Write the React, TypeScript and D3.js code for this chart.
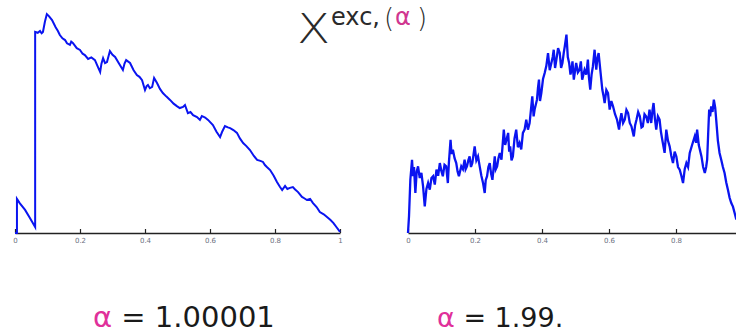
import { useRef, useEffect } from "react";
import * as d3 from "d3";

// left path, alpha = 1.00001 : [t, value]
const leftPath: [number, number][] = [
  [0, 0], [0.006, 0], [0.006, 0.155], [0.015, 0.135], [0.031, 0.105], [0.045, 0.07], [0.062, 0.027],
  [0.062, 0.914], [0.07, 0.91], [0.077, 0.918], [0.082, 0.908], [0.086, 0.914], [0.092, 0.96],
  [0.098, 0.995], [0.105, 0.985], [0.114, 0.968], [0.125, 0.935], [0.132, 0.918], [0.138, 0.9],
  [0.146, 0.885], [0.154, 0.877], [0.16, 0.862], [0.169, 0.855], [0.173, 0.87], [0.178, 0.864],
  [0.19, 0.84], [0.2, 0.832], [0.208, 0.815], [0.215, 0.809], [0.225, 0.791], [0.235, 0.798],
  [0.246, 0.786], [0.255, 0.755], [0.262, 0.732], [0.266, 0.77], [0.271, 0.795], [0.277, 0.772],
  [0.283, 0.777], [0.292, 0.827], [0.3, 0.81], [0.308, 0.8], [0.32, 0.77], [0.332, 0.741],
  [0.337, 0.77], [0.342, 0.786], [0.354, 0.773], [0.365, 0.74], [0.375, 0.718], [0.383, 0.71],
  [0.391, 0.695], [0.4, 0.65], [0.405, 0.668], [0.409, 0.673], [0.415, 0.658], [0.422, 0.664],
  [0.428, 0.705], [0.437, 0.682], [0.446, 0.655], [0.455, 0.636], [0.466, 0.62], [0.477, 0.605],
  [0.488, 0.588], [0.498, 0.577], [0.507, 0.568], [0.517, 0.573], [0.523, 0.582], [0.532, 0.545],
  [0.54, 0.55], [0.548, 0.536], [0.56, 0.527], [0.569, 0.514], [0.575, 0.532], [0.585, 0.525],
  [0.594, 0.514], [0.609, 0.491], [0.62, 0.46], [0.631, 0.436], [0.637, 0.459], [0.646, 0.486],
  [0.655, 0.48], [0.662, 0.477], [0.672, 0.468], [0.683, 0.455], [0.692, 0.43], [0.702, 0.409],
  [0.712, 0.395], [0.723, 0.377], [0.735, 0.35], [0.745, 0.332], [0.755, 0.328], [0.763, 0.323],
  [0.769, 0.309], [0.775, 0.3], [0.785, 0.286], [0.796, 0.26], [0.806, 0.232], [0.815, 0.21],
  [0.822, 0.195], [0.831, 0.214], [0.838, 0.2], [0.846, 0.205], [0.855, 0.209], [0.862, 0.198],
  [0.871, 0.186], [0.883, 0.164], [0.89, 0.158], [0.898, 0.15], [0.908, 0.155], [0.917, 0.136],
  [0.928, 0.118], [0.938, 0.095], [0.95, 0.085], [0.96, 0.073], [0.97, 0.06], [0.98, 0.045],
  [0.99, 0.025], [1, 0.005],
];

// right path, alpha = 1.99 : [t, value]
const rightPath: [number, number][] = [
  [0, 0], [0.003, 0.076], [0.007, 0.242], [0.012, 0.333], [0.015, 0.258], [0.018, 0.3], [0.022, 0.182],
  [0.026, 0.28], [0.03, 0.303], [0.035, 0.25], [0.04, 0.273], [0.045, 0.212], [0.05, 0.121],
  [0.055, 0.2], [0.06, 0.227], [0.065, 0.197], [0.07, 0.25], [0.075, 0.258], [0.08, 0.22],
  [0.085, 0.288], [0.09, 0.26], [0.095, 0.318], [0.1, 0.28], [0.104, 0.258], [0.109, 0.31],
  [0.114, 0.303], [0.119, 0.227], [0.122, 0.318], [0.127, 0.424], [0.13, 0.36], [0.134, 0.379],
  [0.139, 0.34], [0.144, 0.318], [0.148, 0.28], [0.152, 0.258], [0.159, 0.303], [0.164, 0.29],
  [0.169, 0.333], [0.172, 0.29], [0.176, 0.303], [0.18, 0.33], [0.184, 0.348], [0.188, 0.3],
  [0.192, 0.318], [0.199, 0.394], [0.204, 0.33], [0.209, 0.348], [0.214, 0.303], [0.219, 0.26],
  [0.224, 0.227], [0.229, 0.182], [0.232, 0.24], [0.236, 0.258], [0.24, 0.3], [0.244, 0.318],
  [0.248, 0.27], [0.252, 0.242], [0.259, 0.348], [0.262, 0.29], [0.266, 0.303], [0.27, 0.34],
  [0.274, 0.364], [0.279, 0.333], [0.286, 0.47], [0.29, 0.4], [0.294, 0.424], [0.299, 0.455],
  [0.302, 0.37], [0.305, 0.394], [0.309, 0.33], [0.313, 0.348], [0.318, 0.43], [0.323, 0.47],
  [0.328, 0.39], [0.333, 0.409], [0.338, 0.38], [0.343, 0.455], [0.348, 0.47], [0.353, 0.515],
  [0.358, 0.47], [0.363, 0.5], [0.367, 0.56], [0.371, 0.621], [0.375, 0.53], [0.378, 0.561],
  [0.385, 0.606], [0.388, 0.66], [0.391, 0.697], [0.394, 0.6], [0.398, 0.636], [0.403, 0.7],
  [0.408, 0.727], [0.413, 0.76], [0.418, 0.818], [0.423, 0.74], [0.428, 0.773], [0.432, 0.8],
  [0.435, 0.833], [0.439, 0.75], [0.443, 0.788], [0.448, 0.84], [0.453, 0.818], [0.457, 0.75],
  [0.461, 0.773], [0.465, 0.82], [0.468, 0.848], [0.473, 0.902], [0.477, 0.8], [0.481, 0.773],
  [0.485, 0.72], [0.488, 0.742], [0.491, 0.78], [0.495, 0.697], [0.502, 0.773], [0.507, 0.73],
  [0.512, 0.742], [0.516, 0.78], [0.52, 0.697], [0.527, 0.742], [0.532, 0.72], [0.537, 0.788],
  [0.54, 0.71], [0.544, 0.652], [0.548, 0.72], [0.552, 0.758], [0.557, 0.833], [0.562, 0.742],
  [0.565, 0.79], [0.569, 0.818], [0.575, 0.727], [0.58, 0.652], [0.584, 0.62], [0.587, 0.591],
  [0.592, 0.65], [0.597, 0.636], [0.602, 0.561], [0.607, 0.6], [0.612, 0.576], [0.618, 0.54],
  [0.624, 0.515], [0.63, 0.47], [0.634, 0.52], [0.637, 0.545], [0.642, 0.5], [0.647, 0.515],
  [0.652, 0.56], [0.657, 0.545], [0.662, 0.5], [0.667, 0.485], [0.674, 0.439], [0.678, 0.49],
  [0.682, 0.515], [0.687, 0.55], [0.692, 0.53], [0.697, 0.48], [0.701, 0.485], [0.706, 0.54],
  [0.711, 0.53], [0.716, 0.5], [0.721, 0.561], [0.726, 0.5], [0.73, 0.56], [0.733, 0.591],
  [0.737, 0.52], [0.741, 0.47], [0.746, 0.53], [0.751, 0.515], [0.755, 0.46], [0.759, 0.424],
  [0.766, 0.364], [0.771, 0.47], [0.776, 0.42], [0.781, 0.394], [0.786, 0.35], [0.791, 0.318],
  [0.796, 0.37], [0.801, 0.348], [0.806, 0.3], [0.811, 0.288], [0.816, 0.26], [0.821, 0.227],
  [0.826, 0.29], [0.831, 0.318], [0.836, 0.3], [0.841, 0.364], [0.848, 0.4], [0.856, 0.439],
  [0.86, 0.41], [0.863, 0.47], [0.868, 0.4], [0.876, 0.348], [0.881, 0.3], [0.886, 0.273],
  [0.89, 0.3], [0.893, 0.333], [0.896, 0.45], [0.899, 0.561], [0.902, 0.53], [0.905, 0.576],
  [0.909, 0.55], [0.913, 0.606], [0.917, 0.57], [0.92, 0.515], [0.925, 0.42], [0.93, 0.364],
  [0.935, 0.333], [0.94, 0.3], [0.945, 0.273], [0.95, 0.23], [0.955, 0.197], [0.96, 0.16],
  [0.965, 0.136], [0.97, 0.12], [0.975, 0.091], [0.98, 0.061],
];

const leftTicks = [0, 0.2, 0.4, 0.6, 0.8, 1];
const rightTicks = [0, 0.2, 0.4, 0.6, 0.8];

export default function App() {
  const svgRef = useRef<SVGSVGElement>(null);

  useEffect(() => {
    document.body.style.margin = "0";
    const svg = d3.select(svgRef.current);
    svg.selectAll("*").remove();

    const baseY = 233;
    const y = d3.scaleLinear().domain([0, 1]).range([baseY, 13]);

    const panels = [
      { data: leftPath, ticks: leftTicks, range: [15, 340], lw: 2 },
      { data: rightPath, ticks: rightTicks, range: [408, 743], lw: 2.3 },
    ];

    panels.forEach(p => {
      const x = d3.scaleLinear().domain([0, 1]).range(p.range);

      const axis = svg.append("g")
        .attr("transform", `translate(0,${baseY})`)
        .call(
          d3.axisBottom(x)
            .tickValues(p.ticks)
            .tickSizeInner(-4)
            .tickSizeOuter(0)
            .tickPadding(5)
            .tickFormat(d3.format("~g"))
        );
      axis.select(".domain").attr("stroke", "#222").attr("stroke-width", 1.4);
      axis.selectAll(".tick line").attr("stroke", "#222").attr("stroke-width", 1.2);
      axis.selectAll(".tick text")
        .attr("fill", "#6b7080")
        .style("font-family", "DejaVu Sans")
        .style("font-size", "7px");

      const line = d3.line<[number, number]>()
        .x(d => x(d[0]))
        .y(d => y(d[1]));

      svg.append("path")
        .datum(p.data)
        .attr("fill", "none")
        .attr("stroke", "#0a14f0")
        .attr("stroke-width", p.lw)
        .attr("d", line);
    });

    // Title
    svg.append("text")
      .attr("transform", "translate(297,43) scale(1.18,1)")
      .style("font-family", "DejaVu Sans")
      .style("font-size", "41px")
      .style("font-weight", "300")
      .attr("fill", "#2a2a2a")
      .text("X");
    const title = svg.append("text")
      .style("font-family", "DejaVu Sans")
      .attr("fill", "#2a2a2a");
    title.append("tspan").attr("x", 331).attr("y", 25).style("font-size", "24px").text("exc,");
    title.append("tspan").attr("x", 384).attr("y", 27).style("font-size", "26px").style("font-weight", "200").text("(");
    title.append("tspan").attr("x", 395).attr("y", 25).style("font-size", "24px").attr("fill", "#d0368f").text("α");
    title.append("tspan").attr("x", 417).attr("y", 27).style("font-size", "26px").style("font-weight", "200").text(")");

    // Bottom labels
    const labels = [
      { x: 93, size: 29, value: "1.00001" },
      { x: 437, size: 27, value: "1.99." },
    ];
    labels.forEach(l => {
      const t = svg.append("text")
        .attr("x", l.x)
        .attr("y", 327)
        .style("font-family", "DejaVu Sans")
        .style("font-size", `${l.size}px`)
        .attr("fill", "#1a1a1a");
      t.append("tspan").attr("fill", "#e0309a").text("α");
      t.append("tspan").text(` = ${l.value}`);
    });
  }, []);

  return <svg ref={svgRef} width={736} height={334} style={{ display: "block" }} />;
}
